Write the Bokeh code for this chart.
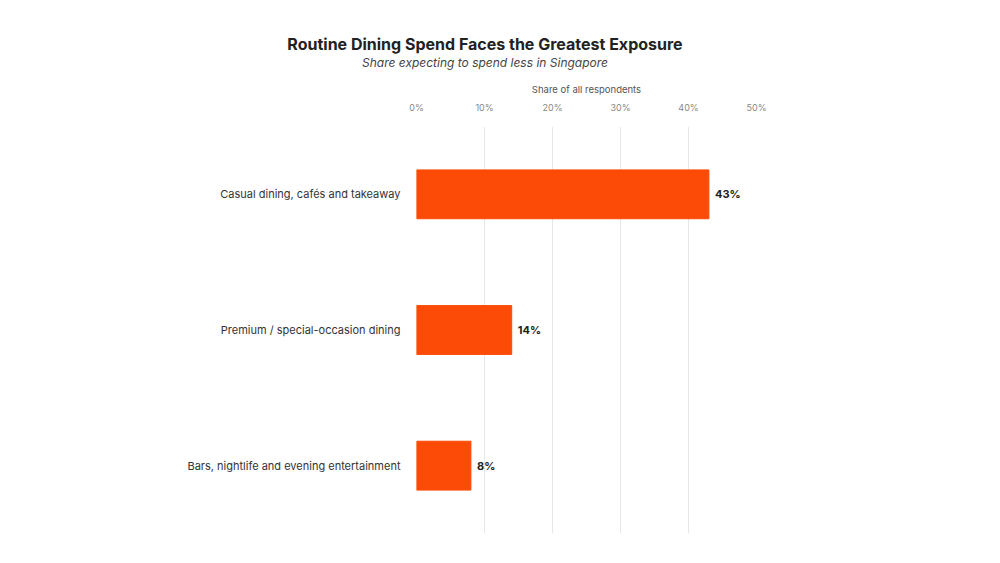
from bokeh.plotting import figure
from bokeh.models import LinearAxis, FixedTicker, CustomJSTickFormatter, Div
from bokeh.layouts import column
from bokeh.core.properties import value
from bokeh.embed import file_html
from bokeh.resources import INLINE

categories = ["Casual dining, cafés and takeaway", "Premium / special-occasion dining", "Bars, nightlife and evening entertainment"]
values = [43, 14, 8]
ticks = [0, 10, 20, 30, 40, 50]

FONT = "Inter"
title = Div(width=1000, height=80, margin=0,
            text=("<div style='font-family:Inter;text-align:center;width:970px;padding-top:34px'>"
                  "<div style='font-size:16px;font-weight:bold;color:#222;line-height:20px'>Routine Dining Spend Faces the Greatest Exposure</div>"
                  "<div style='font-size:12px;font-style:italic;color:#444;line-height:18px'>Share expecting to spend less in Singapore</div></div>"))

p = figure(width=1000, height=483, y_range=list(reversed(categories)), x_range=(0, 50),
           output_backend="svg", toolbar_location=None, x_axis_location=None, margin=0,
           min_border_left=416, min_border_right=244, min_border_top=40, min_border_bottom=30)
p.outline_line_color = None

p.hbar(y=categories, right=values, left=0, height=0.36, color="#fb4b07")
p.text(x=[v + 0.9 for v in values], y=categories, text=[f"{v}%" for v in values],
       text_font=value(FONT), text_font_size="11px", text_font_style="bold", text_color="#222222",
       text_baseline="middle")

ax = LinearAxis(ticker=FixedTicker(ticks=ticks),
                formatter=CustomJSTickFormatter(code="return tick + '%'"),
                axis_label="Share of all respondents")
ax.axis_line_color = None
ax.major_tick_line_color = None
ax.minor_tick_line_color = None
ax.major_label_text_font = FONT
ax.major_label_text_font_size = "9px"
ax.major_label_text_color = "#888888"
ax.major_label_standoff = 8
ax.axis_label_text_font = FONT
ax.axis_label_text_font_size = "9.5px"
ax.axis_label_text_font_style = "normal"
ax.axis_label_text_color = "#555555"
ax.axis_label_standoff = 4
p.add_layout(ax, "above")

p.xgrid.ticker = FixedTicker(ticks=ticks)
p.xgrid.grid_line_color = "#e6e6e6"
p.ygrid.grid_line_color = None
p.yaxis.axis_line_color = None
p.yaxis.major_tick_line_color = None
p.yaxis.major_label_text_font = FONT
p.yaxis.major_label_text_font_size = "11px"
p.yaxis.major_label_text_color = "#333333"
p.yaxis.major_label_standoff = 10

open("out.html", "w").write(file_html(column(title, p, margin=0), INLINE))
